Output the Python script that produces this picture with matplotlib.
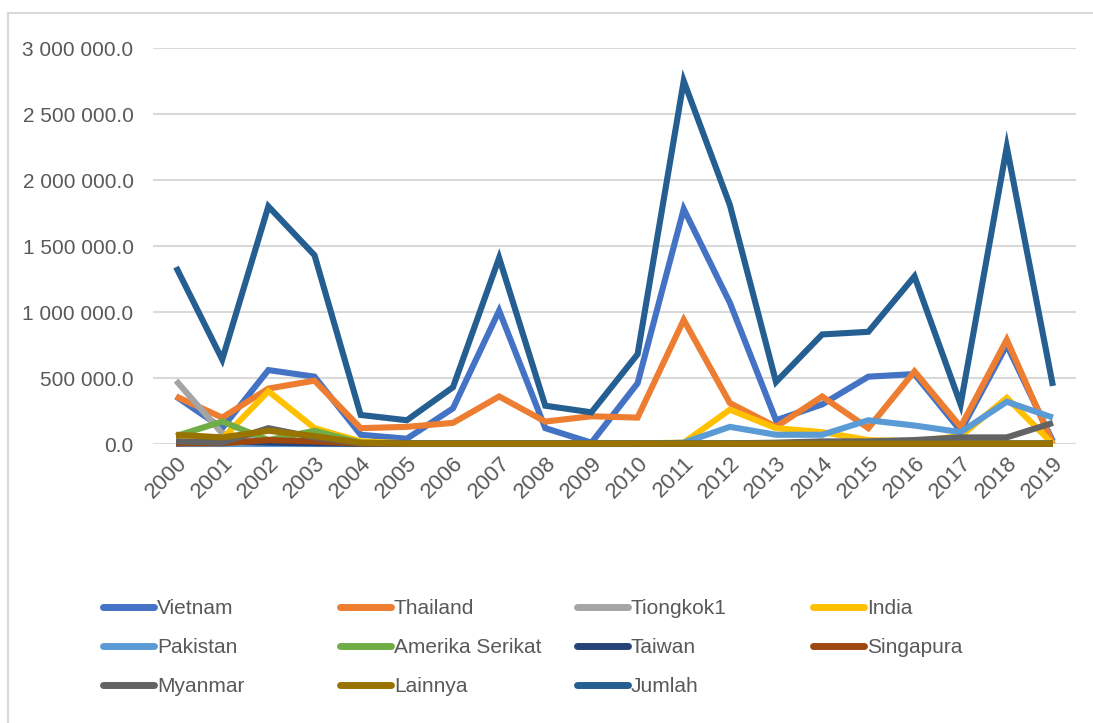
import numpy as np
import matplotlib
matplotlib.use('Agg')
import matplotlib.pyplot as plt
from matplotlib.ticker import FuncFormatter, MultipleLocator
from matplotlib.lines import Line2D

plt.rcParams['font.family'] = ['Liberation Sans', 'DejaVu Sans']

years = [str(y) for y in range(2000, 2020)]

# values (tonnes)
vietnam = [360000, 120000, 560000, 510000, 70000, 40000, 270000, 1010000, 120000, 10000,
           460000, 1780000, 1070000, 180000, 300000, 510000, 530000, 100000, 750000, 20000]
thailand = [360000, 200000, 420000, 480000, 120000, 130000, 160000, 360000, 170000, 210000,
            200000, 940000, 310000, 130000, 360000, 120000, 550000, 130000, 790000, 0]
tiongkok = [480000, 80000, 10000, 5000, 2000, 2000, 2000, 2000, 2000, 2000,
            2000, 2000, 2000, 2000, 2000, 2000, 2000, 2000, 2000, 2000]
india = [50000, 40000, 400000, 120000, 20000, 5000, 5000, 5000, 5000, 5000,
         5000, 10000, 260000, 120000, 90000, 30000, 20000, 60000, 350000, 0]
pakistan = [0, 0, 0, 0, 0, 0, 0, 0, 0, 0,
            0, 10000, 130000, 70000, 70000, 180000, 140000, 90000, 320000, 200000]
amerika = [60000, 170000, 30000, 100000, 10000, 5000, 5000, 5000, 5000, 5000,
           5000, 5000, 5000, 5000, 5000, 5000, 5000, 5000, 5000, 5000]
taiwan = [5000, 20000, 10000, 5000, 2000, 2000, 2000, 2000, 2000, 2000,
          2000, 2000, 2000, 2000, 2000, 2000, 2000, 2000, 2000, 2000]
singapura = [5000, 5000, 30000, 20000, 2000, 2000, 2000, 2000, 2000, 2000,
             2000, 2000, 2000, 2000, 2000, 2000, 2000, 2000, 2000, 2000]
myanmar = [20000, 10000, 120000, 50000, 5000, 2000, 2000, 2000, 2000, 2000,
           2000, 2000, 5000, 10000, 20000, 20000, 30000, 50000, 50000, 160000]
lainnya = [70000, 50000, 100000, 60000, 10000, 2000, 2000, 2000, 2000, 2000,
           2000, 2000, 2000, 2000, 2000, 2000, 2000, 2000, 2000, 2000]
jumlah = [1340000, 640000, 1800000, 1430000, 220000, 180000, 430000, 1410000, 290000, 240000,
          680000, 2750000, 1810000, 470000, 830000, 850000, 1270000, 300000, 2250000, 440000]

labels = ['Vietnam', 'Thailand', 'Tiongkok1', 'India', 'Pakistan', 'Amerika Serikat',
          'Taiwan', 'Singapura', 'Myanmar', 'Lainnya', 'Jumlah']
series = [vietnam, thailand, tiongkok, india, pakistan, amerika, taiwan, singapura,
          myanmar, lainnya, jumlah]
colors = ['#4472C4', '#ED7D31', '#A5A5A5', '#FFC000', '#5B9BD5', '#70AD47',
          '#264478', '#9E480E', '#636363', '#997300', '#255E91']

fig = plt.figure(figsize=(10.93, 7.23), dpi=100)
ax = fig.add_axes([153 / 1093, 1 - 444 / 723, (1076 - 153) / 1093, (444 - 48) / 723])

x = np.arange(len(years))
handles = []
for vals, lab, col in zip(series, labels, colors):
    h, = ax.plot(x, vals, color=col, lw=4.4, label=lab, solid_joinstyle='miter',
                 solid_capstyle='butt', clip_on=False)
    handles.append(h)

ax.set_xlim(-0.5, len(years) - 0.5)
ax.set_ylim(0, 3000000)
ax.yaxis.set_major_locator(MultipleLocator(500000))
ax.yaxis.set_major_formatter(FuncFormatter(lambda v, p: f'{v:,.1f}'.replace(',', ' ')))
ax.grid(axis='y', color='#D9D9D9', lw=1.5)
ax.set_axisbelow(True)
for s in ax.spines.values():
    s.set_visible(False)
ax.tick_params(length=0, labelsize=15, labelcolor='#595959')
ax.tick_params(axis='y', pad=14)
ax.tick_params(axis='x', pad=6, labelsize=16)
ax.set_xticks(x)
ax.set_xticklabels(years, rotation=45, ha='right', rotation_mode='anchor')

# legend: 4 columns placed at fixed positions
col_x = [95, 332, 569, 805]
for c in range(4):
    hs = handles[c::4]
    leg = fig.legend(handles=hs, labels=[h.get_label() for h in hs],
                     loc='upper left', bbox_to_anchor=(col_x[c] / 1093, 1 - 591 / 723),
                     frameon=False, fontsize=15, labelcolor='#595959',
                     handlelength=2.45, handletextpad=0.12, labelspacing=0.95,
                     borderaxespad=0)
    for line in leg.get_lines():
        line.set_linewidth(5)
        line.set_solid_capstyle('round')

# chart frame (only top and left edges are inside the picture)
fig.add_artist(Line2D([8 / 1093, 1.0], [1 - 13 / 723] * 2, transform=fig.transFigure,
                      color='#D9D9D9', lw=1.5))
fig.add_artist(Line2D([8 / 1093] * 2, [0, 1 - 13 / 723], transform=fig.transFigure,
                      color='#D9D9D9', lw=1.5))

fig.savefig('out.png', dpi=100)
